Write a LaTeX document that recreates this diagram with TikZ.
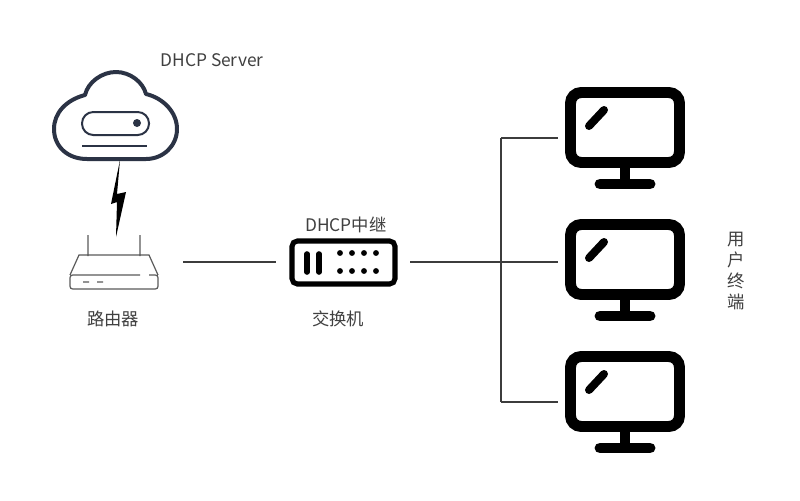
\documentclass[tikz,border=0pt]{standalone}
\usepackage{fontspec}
\usepackage{tikz}
\setmainfont{Noto Sans CJK SC}
\definecolor{cloudline}{HTML}{2B3345}
\definecolor{wireline}{HTML}{3C3C3C}
\definecolor{routerline}{HTML}{5A5A5A}
\definecolor{labeltext}{HTML}{404040}

\tikzset{
  monitor/.pic={
    \draw[black,line width=8.2pt,rounded corners=8pt] (-54.5,5.5) rectangle (54.5,75.5);
    \draw[black,line width=7.5pt] (0,81) -- (0,93);
    \draw[black,line width=8.2pt,line cap=round] (-25,97) -- (25,97);
    \draw[black,line width=6pt,line cap=round] (-36,39) -- (-21,23);
  }
}

\begin{document}
\begin{tikzpicture}[x=0.75pt,y=-0.75pt]
  \tikzstyle{iconbox}=[minimum width=100.5pt,minimum height=30pt,inner sep=0pt]
  \tikzstyle{label}=[text=labeltext,font=\fontsize{13}{13}\selectfont,inner sep=0pt]
  \tikzstyle{wire}=[draw=wireline,line width=1.6pt]

  \useasboundingbox[fill=white] (0,0) rectangle (800,500);

  \node[iconbox] at (116,262) (router) {};
  \node[iconbox] at (343,262) (switch) {};
  \node[iconbox] at (625,138) (pc1) {};
  \node[iconbox] at (625,262) (pc2) {};
  \node[iconbox] at (625,402) (pc3) {};
  \coordinate (trunk) at (501,262);

  % cloud server
  \draw[cloudline,line width=3pt,line join=round]
    (87,159) .. controls (67,159) and (54,146) .. (54,129)
    .. controls (54,113) and (66,100) .. (85,95)
    .. controls (88,82) and (102,72) .. (116,72)
    .. controls (130,72) and (143,82) .. (146,94)
    .. controls (163,98) and (177,112) .. (177,129)
    .. controls (177,146) and (163,159) .. (146,159) -- cycle;
  \draw[cloudline,line width=1.5pt,rounded corners=8.5pt] (82,112) rectangle (149,135);
  \fill[cloudline] (137,123) circle (3pt);
  \draw[cloudline,line width=1.5pt] (82,146) -- (147,146);

  % link to the router
  \fill[black] (120,160) -- (111,204) -- (117,202) -- (116,237) -- (126,192) -- (117,194) -- cycle;

  % router
  \draw[routerline,line width=0.9pt] (88,235) -- (88,256)
    (140,235) -- (140,256)
    (70,275) -- (79,255) -- (149,255) -- (158,275)
    (140,275) -- (73,275) [rounded corners=2pt] -- (70,275) -- (70,289) -- (158,289) -- (158,275) -- (149,275)
    (83,282) -- (89,282)
    (97,282) -- (103,282);

  % switch
  \draw[black,line width=3.8pt,rounded corners=4pt] (292,241) rectangle (395,284);
  \draw[black,line width=4.2pt,line cap=round] (307,254) -- (307,272)
    (319,254) -- (319,272);
  \foreach \x in {340,352,364,376} {
    \fill[black] (\x,253) circle (2.2pt);
    \fill[black] (\x,271) circle (2.2pt);
  }

  \pic at (625,87) {monitor};
  \pic at (625,219) {monitor};
  \pic at (625,351) {monitor};

  \path[wire] (router) edge (switch)
              (switch) edge (pc2)
              (trunk) edge (trunk |- pc1)
              (trunk) edge (trunk |- pc3)
              (trunk |- pc1) edge (pc1)
              (trunk |- pc3) edge (pc3);

  \node[label] at (212,60) (server label) {DHCP Server};
  \node[label] at (113,319) (router label) {路由器};
  \node[label] at (346,225) (relay label) {DHCP中继};
  \node[label] at (338,319) (switch label) {交换机};
  \node[label,align=center] at (736,271) (user label) {用\\[2.8pt]户\\[2.8pt]终\\[2.8pt]端};
\end{tikzpicture}
\end{document}
